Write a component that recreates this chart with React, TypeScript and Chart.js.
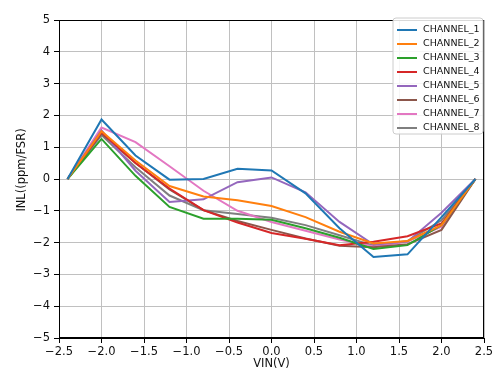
import React, { useEffect, useRef } from "react";
import { Chart, registerables } from "chart.js";

Chart.register(...registerables);

const vin = [-2.4, -2.0, -1.6, -1.2, -0.8, -0.4, 0.0, 0.4, 0.8, 1.2, 1.6, 2.0, 2.4];
const channel1 = [0, 1.87, 0.74, -0.02, 0.0, 0.32, 0.27, -0.45, -1.55, -2.45, -2.37, -1.2, 0];
const channel2 = [0, 1.5, 0.58, -0.22, -0.55, -0.67, -0.85, -1.2, -1.66, -2.03, -1.95, -1.45, 0];
const channel3 = [0, 1.26, 0.1, -0.88, -1.25, -1.25, -1.28, -1.55, -1.85, -2.2, -2.08, -1.45, 0];
const channel4 = [0, 1.47, 0.5, -0.3, -0.98, -1.37, -1.7, -1.88, -2.08, -1.97, -1.8, -1.4, 0];
const channel5 = [0, 1.53, 0.26, -0.72, -0.64, -0.1, 0.05, -0.42, -1.35, -2.06, -1.97, -1.06, 0];
const channel6 = [0, 1.43, 0.5, -0.33, -0.98, -1.32, -1.6, -1.87, -2.1, -2.15, -2.05, -1.6, 0];
const channel7 = [0, 1.62, 1.16, 0.4, -0.37, -1.0, -1.35, -1.63, -1.9, -2.12, -1.97, -1.5, 0];
const channel8 = [0, 1.38, 0.37, -0.52, -0.98, -1.1, -1.22, -1.45, -1.77, -2.1, -1.95, -1.3, 0];

const seriesNames = ["CHANNEL_1", "CHANNEL_2", "CHANNEL_3", "CHANNEL_4", "CHANNEL_5", "CHANNEL_6", "CHANNEL_7", "CHANNEL_8"];
const seriesValues = [channel1, channel2, channel3, channel4, channel5, channel6, channel7, channel8];
const seriesColors = ["#1f77b4", "#ff7f0e", "#2ca02c", "#d62728", "#9467bd", "#8c564b", "#e377c2", "#7f7f7f"];
const yTitle = "INL((ppm/FSR)";
const xTitle = "VIN(V)";

const FONT = "'DejaVu Sans', sans-serif";
const TEXT = "#111";
const minus = (s: string) => s.replace("-", "\u2212");

const framePlugin = {
  id: "frame",
  afterDatasetsDraw(chart: any) {
    const { ctx, chartArea } = chart;
    ctx.save();
    ctx.strokeStyle = "#000";
    ctx.lineWidth = 1;
    ctx.strokeRect(chartArea.left + 0.5, chartArea.top + 0.5, chartArea.right - chartArea.left - 1, chartArea.bottom - chartArea.top - 1);

    // y axis title
    ctx.save();
    ctx.translate(22, 170);
    ctx.rotate(-Math.PI / 2);
    ctx.font = `11.5px ${FONT}`;
    ctx.fillStyle = TEXT;
    ctx.textAlign = "center";
    ctx.textBaseline = "middle";
    ctx.fillText(yTitle, 0, 0);
    ctx.restore();

    // legend
    const bx = 393, by = 18, bw = 90, bh = 116;
    ctx.fillStyle = "rgba(255,255,255,0.85)";
    ctx.strokeStyle = "#cccccc";
    ctx.lineWidth = 1;
    ctx.beginPath();
    const r = 3;
    ctx.moveTo(bx + r, by);
    ctx.lineTo(bx + bw - r, by);
    ctx.quadraticCurveTo(bx + bw, by, bx + bw, by + r);
    ctx.lineTo(bx + bw, by + bh - r);
    ctx.quadraticCurveTo(bx + bw, by + bh, bx + bw - r, by + bh);
    ctx.lineTo(bx + r, by + bh);
    ctx.quadraticCurveTo(bx, by + bh, bx, by + bh - r);
    ctx.lineTo(bx, by + r);
    ctx.quadraticCurveTo(bx, by, bx + r, by);
    ctx.closePath();
    ctx.fill();
    ctx.stroke();
    ctx.font = `9.5px ${FONT}`;
    ctx.textBaseline = "middle";
    ctx.textAlign = "left";
    seriesNames.forEach((name, i) => {
      const y = 30 + i * 14;
      ctx.strokeStyle = seriesColors[i];
      ctx.lineWidth = 2;
      ctx.beginPath();
      ctx.moveTo(397, y);
      ctx.lineTo(417, y);
      ctx.stroke();
      ctx.fillStyle = TEXT;
      ctx.fillText(name, 423, y);
    });
    ctx.restore();
  },
};

export default function App() {
  const ref = useRef<HTMLCanvasElement | null>(null);
  useEffect(() => {
    document.body.style.margin = "0";
    const canvas = ref.current!;
    const chart = new Chart(canvas, {
      type: "line",
      data: {
        datasets: seriesValues.map((vals, i) => ({
          label: seriesNames[i],
          data: vin.map((x, j) => ({ x, y: vals[j] })),
          borderColor: seriesColors[i],
          backgroundColor: seriesColors[i],
          borderWidth: 2,
          pointRadius: 0,
          tension: 0,
          fill: false,
        })),
      },
      options: {
        responsive: false,
        animation: false,
        layout: { padding: { left: 0, top: 20, right: 20, bottom: 0 } },
        plugins: { legend: { display: false }, tooltip: { enabled: false } },
        scales: {
          x: {
            type: "linear",
            min: -2.5,
            max: 2.5,
            afterFit: (s: any) => { s.height = 50; },
            ticks: {
              stepSize: 0.5,
              color: TEXT,
              font: { family: FONT, size: 11.5 },
              padding: 2,
              maxRotation: 0,
              callback: (v: any) => minus(Number(v).toFixed(1)),
            },
            grid: { color: "#c0c0c0", lineWidth: 1, tickColor: "#000", tickLength: 5 },
            border: { color: "#000", width: 1 },
            title: { display: true, text: xTitle, color: TEXT, font: { family: FONT, size: 11.5 }, padding: { top: 0, bottom: 17 } },
          },
          y: {
            type: "linear",
            min: -5,
            max: 5,
            afterFit: (s: any) => { s.width = 59; },
            ticks: {
              stepSize: 1,
              color: TEXT,
              font: { family: FONT, size: 11.5 },
              padding: 4,
              callback: (v: any) => minus(String(Math.round(Number(v)))),
            },
            grid: { color: "#c0c0c0", lineWidth: 1, tickColor: "#000", tickLength: 5 },
            border: { color: "#000", width: 1 },
            title: { display: false },
          },
        },
      },
      plugins: [framePlugin],
    } as any);
    return () => chart.destroy();
  }, []);
  return (
    <div style={{ width: 504, height: 388, background: "#fff" }}>
      <canvas ref={ref} width={504} height={388} style={{ display: "block" }} />
    </div>
  );
}
